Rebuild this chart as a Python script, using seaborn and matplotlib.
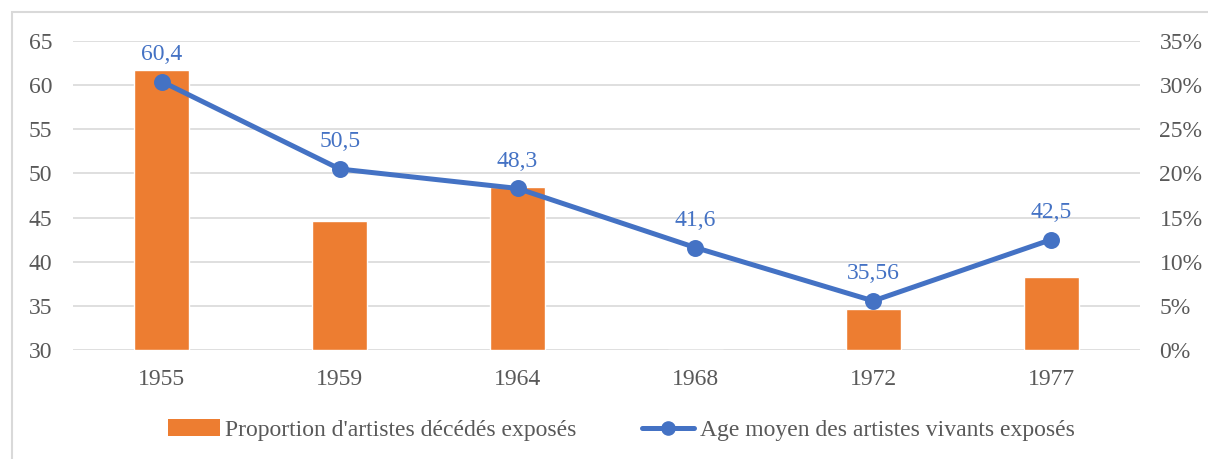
import matplotlib
matplotlib.use("Agg")
import matplotlib.pyplot as plt
import seaborn as sns
import pandas as pd
from matplotlib.patches import Rectangle, Patch
from matplotlib.lines import Line2D
from matplotlib.ticker import FuncFormatter

# data
years = ["1955", "1959", "1964", "1968", "1972", "1977"]
prop_deceased = [31.7, 14.6, 18.5, 0.0, 4.6, 8.3]   # percent, right axis
age_living = [60.4, 50.5, 48.3, 41.6, 35.56, 42.5]  # years, left axis
age_labels = ["60,4", "50,5", "48,3", "41,6", "35,56", "42,5"]

bar_label = "Proportion d'artistes décédés exposés"
line_label = "Age moyen des artistes vivants exposés"

orange = "#ED7D31"
blue = "#4472C4"
grey_text = "#595959"
grid_col = "#D9D9D9"
fs = 17

sns.set_theme(style="white")
plt.rcParams["font.family"] = ["Liberation Serif", "DejaVu Serif"]

df = pd.DataFrame({"year": years, "prop": prop_deceased, "age": age_living})

fig = plt.figure(figsize=(12.08, 4.59), dpi=100)
ax_bar = fig.add_axes([73 / 1208, 109 / 459, (1140 - 73) / 1208, 309 / 459])
ax_line = ax_bar.twinx()

# bars on the primary axes (drawn below), ticks shown on the right
sns.barplot(data=df, x="year", y="prop", color=orange, width=0.31,
            saturation=1, ax=ax_bar, zorder=2)
ax_bar.set_ylim(0, 35)
ax_bar.set_yticks(range(0, 36, 5))
ax_bar.yaxis.set_major_formatter(FuncFormatter(lambda v, p: f"{int(v)}%"))
ax_bar.yaxis.tick_right()
ax_bar.yaxis.set_label_position("right")
ax_bar.grid(axis="y", color=grid_col, linewidth=1.2, zorder=0)
ax_bar.set_axisbelow(True)

# line on the twin axes (drawn on top), ticks shown on the left
sns.pointplot(data=df, x="year", y="age", color=blue, markers="o",
              linestyles="-", ax=ax_line, markersize=9.5, linewidth=3.6)
ax_line.set_ylim(30, 65)
ax_line.set_yticks(range(30, 66, 5))
ax_line.yaxis.tick_left()
ax_line.yaxis.set_label_position("left")

for i, (v, lab) in enumerate(zip(age_living, age_labels)):
    ax_line.annotate(lab, (i, v), xytext=(0, 12), textcoords="offset points",
                     ha="center", va="bottom", color=blue, fontsize=fs)

for ax in (ax_bar, ax_line):
    ax.set_xlim(-0.5, len(years) - 0.5)
    ax.set_xlabel("")
    ax.set_ylabel("")
    for s in ax.spines.values():
        s.set_visible(False)
    ax.tick_params(axis="both", length=0, labelsize=fs, colors=grey_text)

ax_bar.tick_params(axis="x", pad=14)
ax_bar.tick_params(axis="y", pad=14)
ax_line.tick_params(axis="y", pad=15)

# legend
handles = [Patch(facecolor=orange, edgecolor="none"),
           Line2D([0], [0], color=blue, linewidth=3.6, marker="o", markersize=9.5)]
fig.legend(handles, [bar_label, line_label], loc="center",
           bbox_to_anchor=(0.5 + 17 / 1208, 1 - 430 / 459), ncol=2, frameon=False,
           fontsize=fs, labelcolor=grey_text, handlelength=2.2,
           columnspacing=2.75, handletextpad=0.25)

# outer chart frame
fig.patches.append(Rectangle((12 / 1208, -0.1), 1.2, 1 - 12 / 459 + 0.1,
                             transform=fig.transFigure, fill=False,
                             edgecolor=grid_col, linewidth=1.5))

plt.savefig("out.png", dpi=100)
